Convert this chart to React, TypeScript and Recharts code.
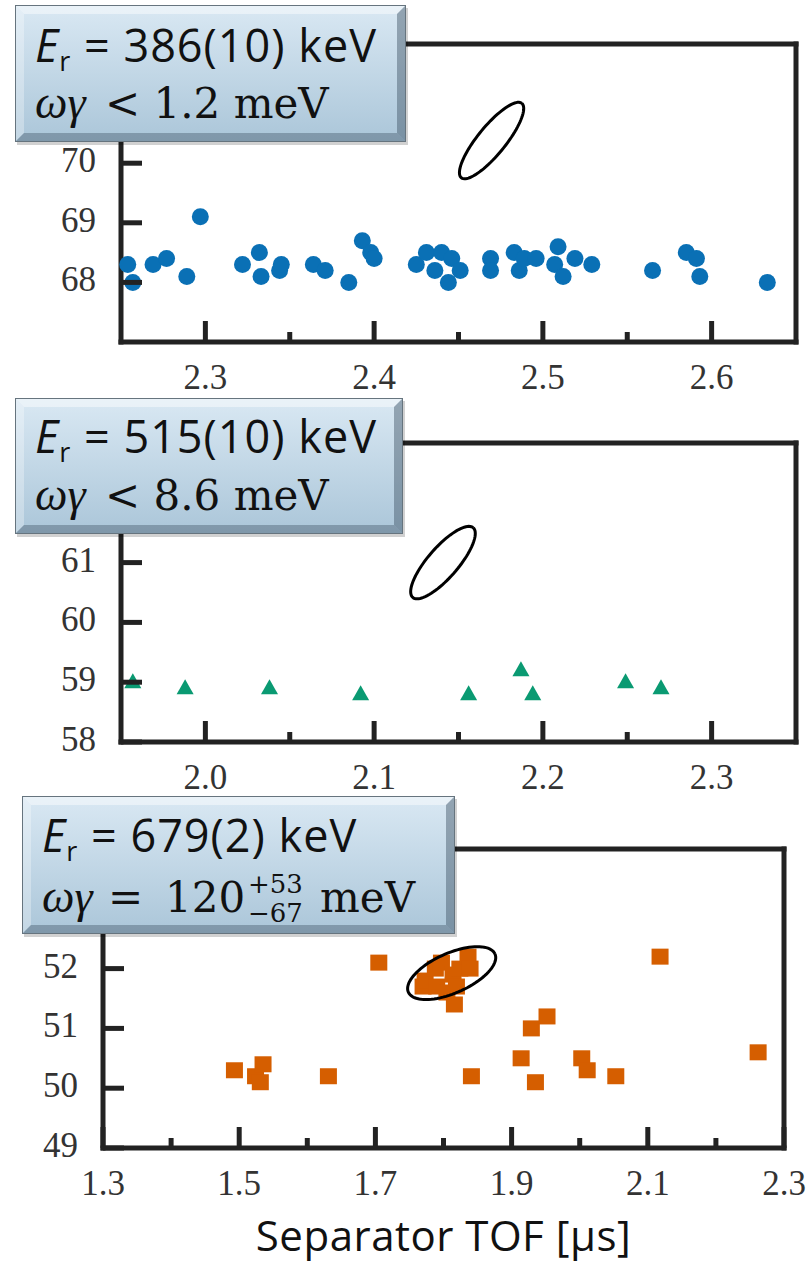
import React from "react";
import { ScatterChart, Scatter, XAxis, YAxis } from "recharts";

const AXIS = "#222";
const TICK_TEXT = "#333";
const LW = 5;

// ---- panel 1: Er = 386(10) keV ----
const p1X = [2.254, 2.257, 2.269, 2.277, 2.289, 2.297, 2.322, 2.332, 2.333, 2.344, 2.345, 2.364, 2.371, 2.385, 2.393, 2.398, 2.4, 2.425, 2.431, 2.436, 2.44, 2.444, 2.446, 2.451, 2.469, 2.469, 2.483, 2.486, 2.489, 2.496, 2.507, 2.509, 2.512, 2.519, 2.529, 2.565, 2.585, 2.591, 2.593, 2.633];
const p1Y = [68.3, 68.0, 68.3, 68.4, 68.1, 69.1, 68.3, 68.5, 68.1, 68.2, 68.3, 68.3, 68.2, 68.0, 68.7, 68.5, 68.4, 68.3, 68.5, 68.2, 68.5, 68.0, 68.4, 68.2, 68.4, 68.2, 68.5, 68.2, 68.4, 68.4, 68.3, 68.6, 68.1, 68.4, 68.3, 68.2, 68.5, 68.4, 68.1, 68.0];
const p1XTicks = [2.3, 2.35, 2.4, 2.45, 2.5, 2.55, 2.6];
const p1XLabels = [2.3, 2.4, 2.5, 2.6];
const p1YTicks = [68, 69, 70, 71];
// ellipse: centre, first and second semi-diameter (data units)
const p1Ellipse = [2.4696, 70.38, 0.0179, 0.625, 0.0065, -0.145];

// ---- panel 2: Er = 515(10) keV ----
const p2X = [1.957, 1.988, 2.038, 2.092, 2.156, 2.187, 2.194, 2.249, 2.27];
const p2Y = [59.0, 58.9, 58.9, 58.8, 58.8, 59.2, 58.8, 59.0, 58.9];
const p2XTicks = [2.0, 2.05, 2.1, 2.15, 2.2, 2.25, 2.3];
const p2XLabels = [2.0, 2.1, 2.2, 2.3];
const p2YTicks = [58, 59, 60, 61, 62];
const p2Ellipse = [2.1408, 61.0, 0.0179, 0.583, 0.0068, -0.165];

// ---- panel 3: Er = 679(2) keV ----
const p3X = [1.493, 1.524, 1.535, 1.531, 1.631, 1.705, 1.77, 1.773, 1.788, 1.79, 1.797, 1.805, 1.814, 1.816, 1.819, 1.824, 1.836, 1.839, 1.841, 1.914, 1.929, 1.935, 1.952, 2.003, 2.011, 2.053, 2.118, 2.262];
const p3Y = [50.3, 50.2, 50.4, 50.1, 50.2, 52.1, 51.7, 51.8, 52.0, 51.7, 52.1, 51.6, 51.9, 51.4, 51.7, 52.0, 52.2, 52.0, 50.2, 50.5, 51.0, 50.1, 51.2, 50.5, 50.3, 50.2, 52.2, 50.6];
const p3XTicks = [1.3, 1.4, 1.5, 1.6, 1.7, 1.8, 1.9, 2.0, 2.1, 2.2, 2.3];
const p3XLabels = [1.3, 1.5, 1.7, 1.9, 2.1, 2.3];
const p3YTicks = [49, 50, 51, 52, 53];
const p3Ellipse = [1.812, 51.925, 0.0636, 0.32, 0.0119, -0.305];

const toPoints = (xs: number[], ys: number[]) => xs.map((x, i) => ({ x, y: ys[i] }));

// outline of a confidence ellipse from its centre and conjugate semi-diameters
const ellipsePoints = (e: number[]) => {
  const [cx, cy, ux, uy, vx, vy] = e;
  const pts = [];
  for (let i = 0; i <= 90; i++) {
    const t = (2 * Math.PI * i) / 90;
    pts.push({ x: cx + ux * Math.cos(t) + vx * Math.sin(t), y: cy + uy * Math.cos(t) + vy * Math.sin(t) });
  }
  return pts;
};

const near = (list: number[], v: number) => list.some((l) => Math.abs(l - v) < 1e-6);

const fontTick = { fontFamily: "'Liberation Serif', 'Times New Roman', serif", fontSize: 35, fill: TICK_TEXT };

const bottomTick = (labels: number[]) => (p: any) => {
  const major = near(labels, p.payload.value);
  return (
    <g>
      <line x1={p.x} x2={p.x} y1={p.y} y2={p.y - (major ? 21 : 10)} stroke={AXIS} strokeWidth={LW} />
      {major && (
        <text x={p.x} y={p.y + 47} textAnchor="middle" {...fontTick}>
          {p.payload.value.toFixed(1)}
        </text>
      )}
    </g>
  );
};

const topTick = (labels: number[]) => (p: any) => {
  const major = near(labels, p.payload.value);
  return <line x1={p.x} x2={p.x} y1={p.y} y2={p.y + (major ? 21 : 10)} stroke={AXIS} strokeWidth={LW} />;
};

const leftTick = (hidden: number[]) => (p: any) => (
  <g>
    <line x1={p.x} x2={p.x + 21} y1={p.y} y2={p.y} stroke={AXIS} strokeWidth={LW} />
    {!near(hidden, p.payload.value) && (
      <text x={p.x - 25} y={p.y + 9} textAnchor="end" {...fontTick}>
        {p.payload.value}
      </text>
    )}
  </g>
);

const rightTick = (p: any) => <line x1={p.x} x2={p.x - 21} y1={p.y} y2={p.y} stroke={AXIS} strokeWidth={LW} />;

const Circle = (p: any) => <circle cx={p.cx} cy={p.cy} r={8.5} fill="#0a70b5" />;
const Triangle = (p: any) => (
  <polygon points={`${p.cx},${p.cy - 9} ${p.cx - 8.5},${p.cy + 6} ${p.cx + 8.5},${p.cy + 6}`} fill="#0a9a72" />
);
const Square = (p: any) => <rect x={p.cx - 8.5} y={p.cy - 8} width={17} height={16} fill="#d55e00" />;
const Nothing = () => <g />;

const axisLine = { stroke: AXIS, strokeWidth: LW, strokeLinecap: "square" as const };

function Panel(props: {
  top: number;
  height: number;
  plotTop: number;
  plotBottom: number;
  plotLeft: number;
  plotRight: number;
  xDomain: [number, number];
  yDomain: [number, number];
  xTicks: number[];
  xLabels: number[];
  yTicks: number[];
  hiddenY: number[];
  points: { x: number; y: number }[];
  ellipse: number[];
  shape: any;
}) {
  const W = 812;
  const margin = {
    top: props.plotTop - 1,
    right: W - props.plotRight - 1,
    bottom: props.height - props.plotBottom - 56,
    left: 0,
  };
  return (
    <div style={{ position: "absolute", left: 0, top: props.top }}>
      <ScatterChart width={W} height={props.height} margin={margin}>
        <XAxis
          dataKey="x"
          type="number"
          domain={props.xDomain}
          ticks={props.xTicks}
          interval={0}
          height={56}
          tickLine={false}
          tickSize={0}
          tickMargin={0}
          axisLine={axisLine}
          tick={bottomTick(props.xLabels)}
        />
        <XAxis
          xAxisId="top"
          orientation="top"
          dataKey="x"
          type="number"
          domain={props.xDomain}
          ticks={props.xTicks}
          interval={0}
          height={1}
          tickLine={false}
          tickSize={0}
          tickMargin={0}
          axisLine={axisLine}
          tick={topTick(props.xLabels)}
        />
        <YAxis
          dataKey="y"
          type="number"
          domain={props.yDomain}
          ticks={props.yTicks}
          interval={0}
          width={props.plotLeft}
          tickLine={false}
          tickSize={0}
          tickMargin={0}
          axisLine={axisLine}
          tick={leftTick(props.hiddenY)}
        />
        <YAxis
          yAxisId="right"
          orientation="right"
          dataKey="y"
          type="number"
          domain={props.yDomain}
          ticks={props.yTicks}
          interval={0}
          width={1}
          tickLine={false}
          tickSize={0}
          tickMargin={0}
          axisLine={axisLine}
          tick={rightTick}
        />
        <Scatter data={props.points} shape={props.shape} isAnimationActive={false} />
        <Scatter
          data={ellipsePoints(props.ellipse)}
          line={{ stroke: "#000", strokeWidth: 3 }}
          lineType="joint"
          shape={Nothing}
          isAnimationActive={false}
        />
      </ScatterChart>
    </div>
  );
}

function Box({ x, y, w, h }: { x: number; y: number; w: number; h: number }) {
  const d = 8;
  const x1 = x + 1, y1 = y + 1, x2 = x + w - 1, y2 = y + h - 1;
  return (
    <g>
      <rect x={x + 2} y={y + 3} width={w} height={h} fill="#000" opacity={0.18} />
      <rect x={x} y={y} width={w} height={h} fill="#66747e" />
      <rect x={x1} y={y1} width={w - 2} height={h - 2} fill="url(#boxFill)" />
      <polygon points={`${x1},${y1} ${x2},${y1} ${x2 - d},${y1 + d} ${x1 + d},${y1 + d}`} fill="#fff" opacity={0.45} />
      <polygon points={`${x1},${y1} ${x1 + d},${y1 + d} ${x1 + d},${y2 - d} ${x1},${y2}`} fill="#fff" opacity={0.3} />
      <polygon points={`${x2},${y1} ${x2},${y2} ${x2 - d},${y2 - d} ${x2 - d},${y1 + d}`} fill="#3e5364" opacity={0.45} />
      <polygon points={`${x1},${y2} ${x2},${y2} ${x2 - d},${y2 - d} ${x1 + d},${y2 - d}`} fill="#3e5364" opacity={0.4} />
    </g>
  );
}

const sans = { fontFamily: "'Open Sans', 'Liberation Sans', sans-serif", fill: "#111" };
const serif = { fontFamily: "'DejaVu Serif', 'Liberation Serif', serif", fill: "#111" };
const greek = { fontFamily: "'Liberation Serif', 'Times New Roman', serif", fontStyle: "italic", fill: "#111" };

function ErLine({ x, y, value }: { x: number; y: number; value: string }) {
  return (
    <text x={x} y={y} fontSize={45} letterSpacing={1} {...sans}>
      <tspan fontStyle="italic">E</tspan>
      <tspan fontSize={27} dy={9}>r</tspan>
      <tspan dy={-9}>{` = ${value} keV`}</tspan>
    </text>
  );
}

function LimitLine({ x, y, value }: { x: number; y: number; value: string }) {
  return (
    <g>
      <text x={x} y={y} fontSize={46} {...greek}>ωγ</text>
      <text x={x + 70} y={y} fontSize={42} {...serif}>{`< ${value} meV`}</text>
    </g>
  );
}

export default function App() {
  return (
    <div style={{ position: "absolute", left: 0, top: 0, width: 812, height: 1263, background: "#fff", overflow: "hidden" }}>
      <Panel
        top={0}
        height={400}
        plotTop={44}
        plotBottom={342}
        plotLeft={121}
        plotRight={796}
        xDomain={[2.25, 2.65]}
        yDomain={[67, 72]}
        xTicks={p1XTicks}
        xLabels={p1XLabels}
        yTicks={p1YTicks}
        hiddenY={[71]}
        points={toPoints(p1X, p1Y)}
        ellipse={p1Ellipse}
        shape={Circle}
      />
      <Panel
        top={400}
        height={400}
        plotTop={43}
        plotBottom={342}
        plotLeft={121}
        plotRight={796}
        xDomain={[1.95, 2.35]}
        yDomain={[58, 63]}
        xTicks={p2XTicks}
        xLabels={p2XLabels}
        yTicks={p2YTicks}
        hiddenY={[62]}
        points={toPoints(p2X, p2Y)}
        ellipse={p2Ellipse}
        shape={Triangle}
      />
      <Panel
        top={800}
        height={463}
        plotTop={49}
        plotBottom={348}
        plotLeft={103}
        plotRight={784}
        xDomain={[1.3, 2.3]}
        yDomain={[49, 54]}
        xTicks={p3XTicks}
        xLabels={p3XLabels}
        yTicks={p3YTicks}
        hiddenY={[53]}
        points={toPoints(p3X, p3Y)}
        ellipse={p3Ellipse}
        shape={Square}
      />
      <svg width={812} height={1263} style={{ position: "absolute", left: 0, top: 0, pointerEvents: "none" }}>
        <defs>
          <linearGradient id="boxFill" x1="0" y1="0" x2="0" y2="1">
            <stop offset="0" stopColor="#d9e8f3" />
            <stop offset="1" stopColor="#abc6d9" />
          </linearGradient>
        </defs>

        <Box x={15} y={5} w={391} h={137} />
        <ErLine x={35} y={62} value="386(10)" />
        <LimitLine x={35} y={118} value="1.2" />

        <Box x={15} y={398} w={388} h={136} />
        <ErLine x={35} y={453} value="515(10)" />
        <LimitLine x={35} y={510} value="8.6" />

        <Box x={22} y={796} w={433} h={138} />
        <ErLine x={42} y={852} value="679(2)" />
        <text x={42} y={912} fontSize={46} {...greek}>ωγ</text>
        <text x={108} y={912} fontSize={42} {...serif}>=</text>
        <text x={165} y={912} fontSize={42} {...serif}>120</text>
        <text x={248} y={893} fontSize={26} {...serif}>+53</text>
        <text x={248} y={922} fontSize={26} {...serif}>−67</text>
        <text x={320} y={912} fontSize={42} {...serif}>meV</text>

        <text x={443.5} y={1251} textAnchor="middle" fontSize={42} letterSpacing={0.5} {...sans}>
          Separator TOF [μs]
        </text>
      </svg>
    </div>
  );
}
